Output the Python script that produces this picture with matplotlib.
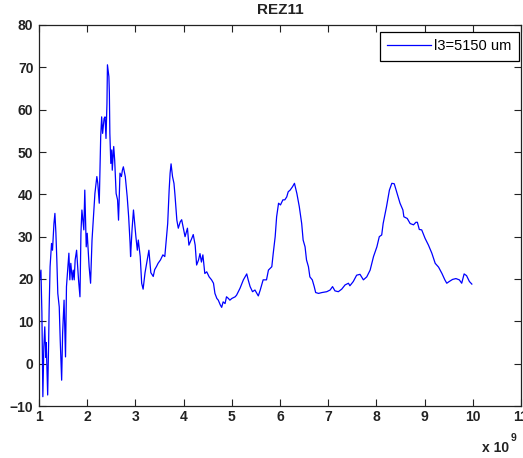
import matplotlib
matplotlib.use("Agg")
import matplotlib.pyplot as plt

# Frequency in units of 1e9, with the measured level at each point
freq = [
    1.00, 1.02, 1.04, 1.06, 1.08, 1.10, 1.12, 1.14, 1.15, 1.18,
    1.20, 1.21, 1.23, 1.26, 1.28, 1.31, 1.33, 1.35, 1.37, 1.39,
    1.42, 1.44, 1.47, 1.49, 1.52, 1.55, 1.56, 1.57, 1.62, 1.64,
    1.66, 1.69, 1.71, 1.73, 1.75, 1.78, 1.82, 1.85, 1.87, 1.89,
    1.93, 1.95, 1.98, 2.00, 2.04, 2.07, 2.10, 2.13, 2.16, 2.20,
    2.22, 2.25, 2.28, 2.30, 2.32, 2.35, 2.37, 2.39, 2.41, 2.42,
    2.45, 2.46, 2.47, 2.49, 2.51, 2.52, 2.55, 2.57, 2.60, 2.63,
    2.65, 2.68, 2.71, 2.73, 2.75, 2.79, 2.83, 2.86, 2.89, 2.90,
    2.93, 2.96, 2.99, 3.01, 3.04, 3.06, 3.10, 3.13, 3.16, 3.20,
    3.26, 3.28, 3.32, 3.37, 3.40, 3.44, 3.47, 3.52, 3.57, 3.61,
    3.67, 3.70, 3.72, 3.74, 3.77, 3.80, 3.82, 3.86, 3.89, 3.93,
    3.96, 4.03, 4.08, 4.11, 4.17, 4.20, 4.24, 4.27, 4.31, 4.34,
    4.37, 4.40, 4.44, 4.48, 4.53, 4.58, 4.62, 4.65, 4.69, 4.72,
    4.76, 4.79, 4.82, 4.86, 4.89, 4.93, 4.96, 5.00, 5.07, 5.10,
    5.17, 5.24, 5.31, 5.34, 5.38, 5.43, 5.48, 5.55, 5.59, 5.62,
    5.65, 5.72, 5.76, 5.83, 5.86, 5.90, 5.93, 5.97, 6.01, 6.06,
    6.10, 6.14, 6.17, 6.21, 6.26, 6.30, 6.35, 6.40, 6.45, 6.48,
    6.52, 6.55, 6.59, 6.62, 6.67, 6.71, 6.74, 6.80, 6.87, 6.97,
    7.04, 7.09, 7.14, 7.21, 7.28, 7.35, 7.42, 7.45, 7.52, 7.59,
    7.66, 7.73, 7.80, 7.87, 7.94, 8.01, 8.06, 8.11, 8.14, 8.21,
    8.27, 8.32, 8.37, 8.42, 8.49, 8.55, 8.57, 8.64, 8.70, 8.77,
    8.82, 8.85, 8.89, 8.94, 9.01, 9.08, 9.15, 9.22, 9.29, 9.36,
    9.42, 9.46, 9.51, 9.58, 9.65, 9.72, 9.77, 9.82, 9.87, 9.93,
    9.98,
]
level = [
    19.0, 20.5, 22.1, 12.0, -7.8, 4.0, 8.7, 1.5, 5.0, -7.4,
    5.0, 12.7, 22.9, 28.4, 26.8, 33.1, 35.5, 31.0, 24.5, 16.6,
    13.4, 5.6, -3.9, 7.2, 15.0, 1.6, 9.5, 18.2, 26.1, 19.8,
    23.7, 19.8, 22.1, 19.8, 24.5, 26.8, 19.8, 15.8, 30.8, 36.3,
    31.6, 41.0, 27.6, 30.8, 22.9, 19.0, 29.2, 34.7, 40.2, 44.2,
    42.6, 37.9, 53.6, 58.3, 54.4, 57.9, 58.3, 53.2, 61.5, 70.6,
    67.8, 63.9, 54.4, 47.3, 50.5, 45.7, 51.3, 48.1, 40.2, 38.7,
    33.9, 45.0, 44.2, 45.7, 46.5, 44.2, 39.4, 34.7, 28.4, 25.3,
    31.6, 36.3, 32.4, 30.0, 26.8, 29.2, 25.3, 19.0, 17.6, 21.5,
    25.4, 26.8, 21.5, 20.6, 22.2, 23.0, 23.7, 24.5, 25.7, 25.3,
    33.1, 41.0, 45.0, 47.2, 44.2, 42.6, 40.0, 33.9, 32.0, 33.5,
    34.0, 30.0, 32.0, 28.0, 29.6, 30.5, 28.0, 23.3, 24.5, 26.0,
    24.0, 25.7, 21.3, 21.7, 20.5, 19.8, 19.0, 16.6, 15.4, 15.0,
    13.9, 13.3, 14.6, 14.2, 15.8, 15.4, 15.0, 15.4, 15.8, 16.2,
    17.8, 19.8, 21.2, 19.8, 18.2, 17.0, 17.4, 16.0, 17.4, 18.6,
    19.8, 19.8, 22.1, 22.9, 26.1, 30.0, 34.7, 37.9, 37.5, 38.7,
    38.7, 39.4, 40.6, 41.0, 41.8, 42.6, 40.2, 37.1, 33.1, 29.2,
    27.6, 24.5, 22.9, 20.5, 19.8, 18.2, 16.8, 16.6, 16.8, 17.0,
    17.4, 18.2, 17.2, 17.0, 17.6, 18.6, 19.0, 18.4, 19.4, 20.9,
    21.1, 19.8, 20.5, 22.1, 25.3, 27.6, 30.0, 30.4, 33.1, 37.1,
    41.0, 42.6, 42.5, 40.6, 37.9, 36.3, 34.7, 34.3, 33.1, 32.8,
    33.4, 33.4, 31.7, 31.6, 29.6, 28.0, 26.1, 23.7, 22.8, 21.3,
    19.8, 19.0, 19.4, 19.9, 20.1, 19.8, 19.0, 21.2, 20.8, 19.4,
    18.8,
]

title = "REZ11"
series_label = "l3=5150 um"
x_ticks = list(range(1, 12))
y_ticks = list(range(-10, 81, 10))

plt.rcParams['font.family'] = ['Liberation Sans', 'DejaVu Sans']

W, H = 523, 458
fig = plt.figure(figsize=(W / 100, H / 100), dpi=100)
fig.patch.set_facecolor('white')
ax = fig.add_axes([39 / W, 52 / H, 482 / W, 381 / H])

ax.plot(freq, level, color=(0, 0, 1), lw=0.9, label=series_label)

ax.set_xlim(1, 11)
ax.set_ylim(-10, 80)
ax.set_xticks(x_ticks)
ax.set_yticks(y_ticks)
ax.tick_params(direction='in', top=True, right=True, length=5, width=0.8,
               color='#222222', labelsize=10, labelcolor='#222222')
ax.tick_params(axis='x', pad=3.2)
ax.tick_params(axis='y', pad=4)
for lab in ax.get_xticklabels() + ax.get_yticklabels():
    lab.set_fontweight('bold')
for s in ax.spines.values():
    s.set_linewidth(0.9)
    s.set_color('#222222')

ax.set_title(title, fontsize=11, fontweight='bold', color='#222222', pad=8.0)

leg = ax.legend(loc='upper right', bbox_to_anchor=(519 / W, 1 - 32 / H),
                bbox_transform=fig.transFigure, borderaxespad=0,
                frameon=True, fancybox=False, framealpha=1,
                edgecolor='black', fontsize=10.5, handlelength=3.0,
                handletextpad=0.25, borderpad=0.5)
leg.get_frame().set_linewidth(0.9)

# Exponent of the frequency axis
fig.text(509 / W, 1 - 452 / H, "x 10", fontsize=10, fontweight='bold',
         color='#222222', ha='right', va='baseline')
fig.text(511 / W, 1 - 441 / H, "9", fontsize=7.5, fontweight='bold',
         color='#222222', ha='left', va='baseline')

fig.savefig('out.png', dpi=100)
